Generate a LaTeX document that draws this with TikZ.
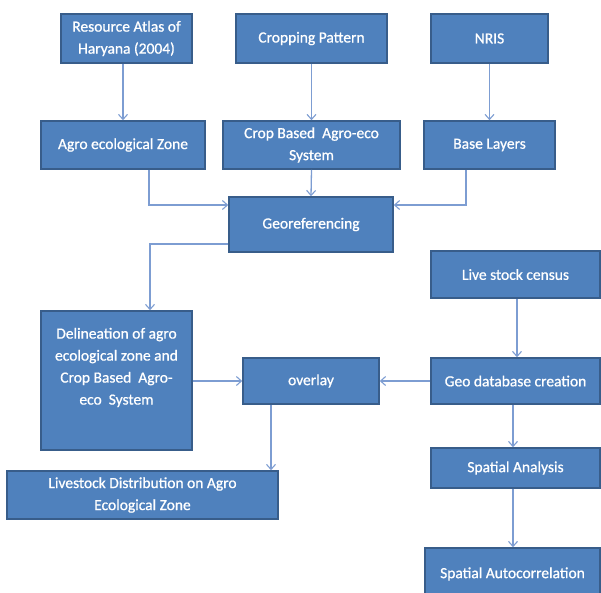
\documentclass[tikz,border=0pt]{standalone}
\usepackage{fontspec}
\setmainfont{Carlito}[FakeBold=0.8]
\newfontfamily\boxfont{Carlito}[UprightFeatures={FakeBold=0.8}]
\usetikzlibrary{arrows.meta}
\definecolor{boxfill}{HTML}{4F81BD}
\definecolor{boxline}{HTML}{385D8A}
\definecolor{arrowc}{HTML}{7D9DD2}
\tikzset{
  box/.style={draw=boxline, fill=boxfill, line width=1.6pt, text=white,
    font=\boxfont\fontsize{15.5}{22}\selectfont, align=center, inner sep=0pt},
  conn/.style={draw=arrowc, line width=1.3pt,
    -{Straight Barb[length=5pt,width=9pt,line width=1.1pt]}}
}
\begin{document}
\begin{tikzpicture}[x=1pt,y=-1pt]
\useasboundingbox (0,0) rectangle (601,592);
\clip (0,0) rectangle (601,592);
% row 1
\node[box, minimum width=131pt, minimum height=49pt] (res) at (126.5,38.5) {Resource Atlas of\\Haryana (2004)};
\node[box, minimum width=151pt, minimum height=49pt] (crop) at (311.5,38.5) {Cropping Pattern};
\node[box, minimum width=117pt, minimum height=49pt] (nris) at (489.5,38.5) {NRIS};
% row 2
\node[box, minimum width=164pt, minimum height=48pt] (agro) at (123,145) {Agro ecological Zone};
\node[box, minimum width=177pt, minimum height=48pt] (cbas) at (311.5,145) {Crop Based~ Agro-eco\\System};
\node[box, minimum width=131pt, minimum height=48pt] (base) at (489.5,145) {Base Layers};
% georeferencing
\node[box, minimum width=164pt, minimum height=55pt] (geo) at (311,224.5) {Georeferencing};
% right column
\node[box, minimum width=169pt, minimum height=47pt] (live) at (515.5,274.5) {Live stock census};
\node[box, minimum width=169pt, minimum height=46pt] (gdb) at (515.5,381) {Geo database creation};
\node[box, minimum width=169pt, minimum height=40pt] (spa) at (515.5,468) {Spatial Analysis};
\node[box, minimum width=175pt, minimum height=52pt] (auto) at (512.5,574) {Spatial Autocorrelation};
% left / middle
\node[box, minimum width=151pt, minimum height=139pt] (deli) at (116.5,380.5) {Delineation of agro\\ecological zone and\\Crop Based~ Agro-\\eco~ System\\ \strut};
\node[box, minimum width=136pt, minimum height=46pt] (over) at (311,381) {overlay};
\node[box, minimum width=271pt, minimum height=48pt] (livd) at (142.5,495) {Livestock Distribution on Agro\\Ecological Zone};
% connectors
\draw[conn] (res.south -| agro.north) -- (agro.north);
\draw[conn] (crop.south -| cbas.north) -- (cbas.north);
\draw[conn] (nris.south) -- (base.north);
\draw[conn] ([xshift=26pt]agro.south) |- ([yshift=19.5pt]geo.west);
\draw[conn] (cbas.south) -- (geo.north);
\draw[conn] ([xshift=-23.5pt]base.south) |- ([yshift=19.5pt]geo.east);
\draw[conn] ([yshift=-19.5pt]geo.west) -| ([xshift=33.5pt]deli.north);
\draw[conn] ([xshift=1.5pt]live.south) -- ([xshift=1.5pt]gdb.north);
\draw[conn] (deli.east |- over.west) -- (over.west);
\draw[conn] (gdb.west) -- (over.east);
\draw[conn] ([xshift=-40pt]over.south) -- ([xshift=-40pt]over.south |- livd.north);
\draw[conn] ([xshift=-2.5pt]gdb.south) -- ([xshift=-2.5pt]gdb.south |- spa.north);
\draw[conn] ([xshift=-2.5pt]spa.south) -- ([xshift=-2.5pt]spa.south |- auto.north);
\end{tikzpicture}
\end{document}
